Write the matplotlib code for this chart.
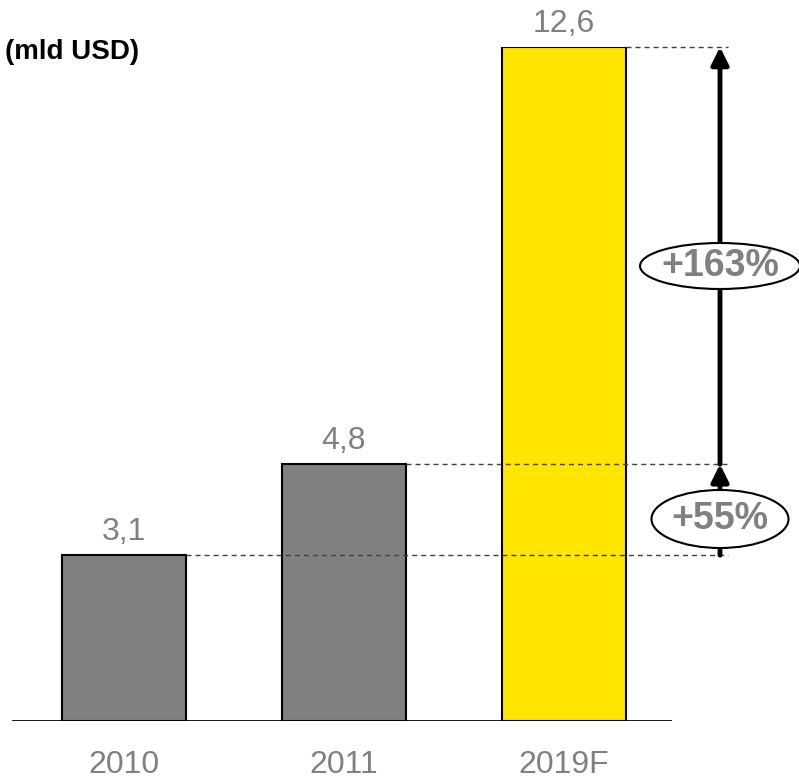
import matplotlib
matplotlib.use("Agg")
import matplotlib.pyplot as plt
from matplotlib.patches import Ellipse

years = ["2010", "2011", "2019F"]
values = [3.1, 4.8, 12.6]
value_labels = ["3,1", "4,8", "12,6"]
bar_colors = ["#808080", "#808080", "#FFE500"]
growth_labels = ["+55%", "+163%"]

plt.rcParams['font.family'] = ['Liberation Sans', 'DejaVu Sans']

fig = plt.figure(figsize=(7.99, 7.84), dpi=100)
W, H = 799, 784
# axes placed so baseline sits at y=721px, 12.6 at y=47px
ax = fig.add_axes([12 / W, 63 / H, 660 / W, 674 / H])
ax.set_xlim(-0.507, 2.493)
ax.set_ylim(0, 12.6)
ax.axis("off")

x = list(range(len(years)))
ax.bar(x, values, width=0.564, color=bar_colors, edgecolor="black", linewidth=1.5, zorder=2)
ax.axhline(0, color="black", linewidth=2, zorder=3)

px_per_unit = 674 / 12.6
for i, (v, lab) in enumerate(zip(values, value_labels)):
    ax.text(i, v + 23 / px_per_unit, lab, ha="center", va="center", fontsize=23, color="#808080")
    ax.text(i, -44 / px_per_unit, years[i], ha="center", va="center", fontsize=23, color="#808080", clip_on=False)

# dashed guide lines from each bar top to the arrow column (drawn over bars)
x_arrow = 2.493 + 48 / 220
x_end = 2.493 + 56 / 220
for i, v in enumerate(values):
    ax.plot([i + 0.282, x_end], [v, v], linestyle=(0, (3.6, 2.9)), color="#404040", linewidth=1,
            clip_on=False, zorder=3)

# arrows
for y0, y1 in [(values[0], values[1]), (values[1], values[2])]:
    ax.annotate("", xy=(x_arrow, y1), xytext=(x_arrow, y0),
                arrowprops=dict(arrowstyle="-|>", color="black", lw=3.5, mutation_scale=26,
                                shrinkA=0, shrinkB=0), annotation_clip=False)

# growth ellipses: (center y px, width px, height px)
ell_specs = [(519, 137, 58), (266, 160, 46)]
for lab, (yc_px, w, h) in zip(growth_labels, ell_specs):
    yc = (721 - yc_px) / px_per_unit
    e = Ellipse((x_arrow, yc), w / 220, h / px_per_unit, facecolor="white", edgecolor="black",
                linewidth=1.5, clip_on=False, zorder=4)
    ax.add_patch(e)
    ax.text(x_arrow, yc, lab, ha="center", va="center", fontsize=27, fontweight="bold",
            color="#808080", zorder=5, clip_on=False)

fig.text(5 / W, 1 - 52 / H, "(mld USD)", ha="left", va="center", fontsize=20, fontweight="bold")

fig.savefig("out.png", dpi=100)
